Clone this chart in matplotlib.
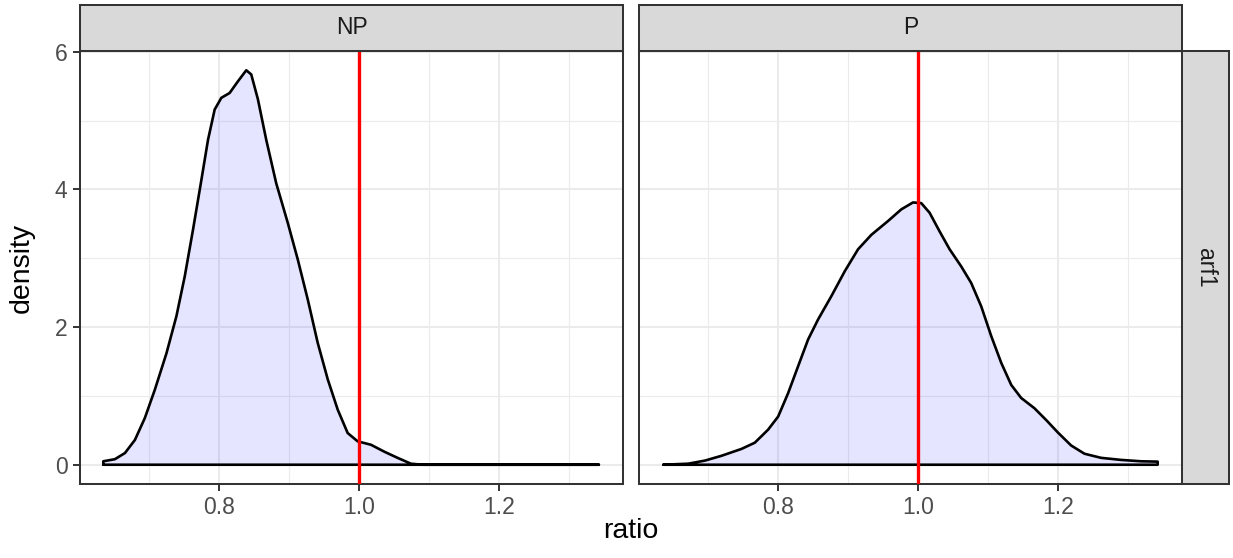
import matplotlib.pyplot as plt
from matplotlib.ticker import MultipleLocator

# facet labels
facets = ["NP", "P"]
row_label = "arf1"

# density curves, one per facet (ratio, density)
np_ratio = [0.6355, 0.652, 0.6664, 0.6806, 0.6948, 0.709, 0.7256, 0.7398, 0.7517, 0.7635,
            0.7754, 0.7848, 0.7943, 0.8038, 0.8156, 0.8275, 0.8393, 0.8464, 0.8559, 0.8678,
            0.882, 0.8986, 0.9128, 0.927, 0.9412, 0.9555, 0.9697, 0.9839, 0.9981, 1.0171,
            1.036, 1.055, 1.074, 1.0905, 1.342]
np_density = [0.05, 0.08, 0.17, 0.36, 0.68, 1.09, 1.62, 2.16, 2.74, 3.42,
              4.14, 4.72, 5.16, 5.33, 5.40, 5.57, 5.73, 5.67, 5.31, 4.72,
              4.09, 3.51, 2.98, 2.40, 1.77, 1.24, 0.80, 0.46, 0.34, 0.29,
              0.19, 0.10, 0.015, 0.0, 0.0]

p_ratio = [0.637, 0.6725, 0.6963, 0.72, 0.7485, 0.7674, 0.7864, 0.8007, 0.8149, 0.8291,
           0.8434, 0.8576, 0.8766, 0.8956, 0.9146, 0.9336, 0.9573, 0.9763, 0.9929, 1.0047,
           1.0166, 1.0308, 1.0451, 1.0617, 1.0759, 1.0902, 1.1044, 1.1187, 1.1329, 1.1471,
           1.1661, 1.1827, 1.1993, 1.2183, 1.2373, 1.261, 1.2895, 1.318, 1.3417]
p_density = [0.0, 0.015, 0.06, 0.13, 0.23, 0.32, 0.51, 0.70, 1.04, 1.43,
             1.82, 2.11, 2.45, 2.81, 3.13, 3.34, 3.54, 3.71, 3.81, 3.80,
             3.66, 3.39, 3.13, 2.88, 2.64, 2.30, 1.87, 1.48, 1.16, 0.97,
             0.82, 0.65, 0.47, 0.28, 0.16, 0.10, 0.07, 0.05, 0.045]

ref_line = 1.0
x_ticks = [0.8, 1.0, 1.2]
y_ticks = [0, 2, 4, 6]

curves = {"NP": (np_ratio, np_density), "P": (p_ratio, p_density)}

W, H = 1233, 558
fig = plt.figure(figsize=(W / 100, H / 100), dpi=100)
plt.rcParams['font.family'] = ['Liberation Sans', 'DejaVu Sans']

border = '#333333'
panel_left = [80, 639]
panel_w = 543
panel_top, panel_bot = 51, 484

def fx(px):
    return px / W

def fy(py):
    return 1 - py / H

def strip_box(rect):
    st = fig.add_axes(rect)
    st.set_facecolor('#D9D9D9')
    st.set_xticks([])
    st.set_yticks([])
    for s in st.spines.values():
        s.set_color(border)
        s.set_linewidth(1.45)
    return st

for i, name in enumerate(facets):
    ax = fig.add_axes([fx(panel_left[i]), fy(panel_bot), panel_w / W, (panel_bot - panel_top) / H])
    xs, ys = curves[name]
    xp = [xs[0]] + list(xs) + [xs[-1]]
    yp = [0] + list(ys) + [0]
    ax.fill(xp, yp, facecolor=(0, 0, 1, 0.1), edgecolor='none', zorder=2)
    ax.plot(xp + [xp[0]], yp + [yp[0]], color='black', lw=1.9, zorder=3,
            solid_joinstyle='round', solid_capstyle='round')
    ax.axvline(ref_line, color='red', lw=2.4, zorder=4)

    ax.set_xlim(0.6023, 1.3764)
    ax.set_ylim(-0.28, 6.01)
    ax.set_xticks(x_ticks)
    ax.set_xticklabels(['%.1f' % v for v in x_ticks])
    ax.set_yticks(y_ticks)
    ax.xaxis.set_minor_locator(MultipleLocator(0.1))
    ax.yaxis.set_minor_locator(MultipleLocator(1))
    ax.set_axisbelow(True)
    ax.grid(which='major', color='#EBEBEB', lw=1.5, zorder=0)
    ax.grid(which='minor', color='#EBEBEB', lw=0.8, zorder=0)
    ax.tick_params(which='major', length=5, width=1.4, color=border,
                   labelsize=16.5, labelcolor='#4D4D4D', pad=4)
    ax.tick_params(which='minor', length=0)
    for s in ax.spines.values():
        s.set_color(border)
        s.set_linewidth(1.45)
    if i > 0:
        ax.tick_params(axis='y', left=False, labelleft=False)

    # top strip
    st = strip_box([fx(panel_left[i]), fy(panel_top), panel_w / W, 46 / H])
    st.text(0.5, 0.5, name, ha='center', va='center', fontsize=16.5, color='#1A1A1A',
            transform=st.transAxes)

# right strip
rs = strip_box([fx(1182), fy(panel_bot), 47 / W, (panel_bot - panel_top) / H])
rs.text(0.5, 0.5, row_label, ha='center', va='center', rotation=-90, fontsize=16.5,
        color='#1A1A1A', transform=rs.transAxes)

fig.text(fx(22), fy((panel_top + panel_bot) / 2), 'density', rotation=90,
         ha='center', va='center', fontsize=20.5, color='black')
fig.text(fx(631), fy(531), 'ratio', ha='center', va='center', fontsize=20.5, color='black')

fig.savefig('out.png', dpi=100)
